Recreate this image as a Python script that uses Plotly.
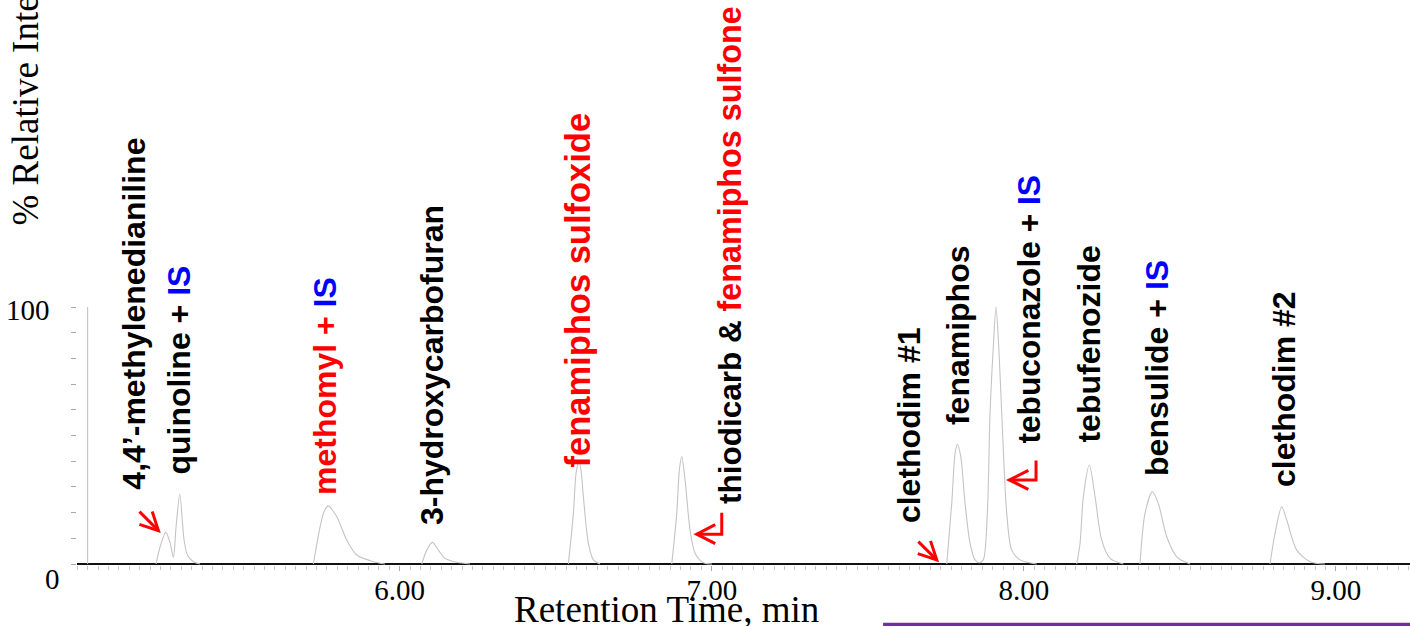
import plotly.graph_objects as go

# ---------------- data ----------------
# retention time (min) and % relative intensity; None separates peak segments
retention_time = [
    5.000, 5.000, None,
    5.2195, 5.2323, 5.2506, 5.2644, 5.2749, 5.2835, 5.2954, 5.3091, 5.3197, 5.3390, 5.3604, None,
    5.7235, 5.7450, 5.7578, 5.7706, 5.7985, 5.8305, 5.8625, 5.9157, 5.9532, None,
    6.0708, 6.0868, 6.1048, 6.1240, 6.1455, 6.1830, 6.2256, None,
    6.5405, 6.5566, 6.5652, 6.5748, 6.5822, 6.5886, 6.6046, 6.6206, 6.6421, None,
    6.8718, 6.8878, 6.8962, 6.9039, 6.9145, 6.9305, 6.9465, 6.9731, 7.0010, None,
    7.7530, 7.7690, 7.7796, 7.7870, 7.7979, 7.8117, 7.8277, 7.8437, 7.8574,
    7.8702, 7.8830, 7.8917, 7.9022, 7.9109, 7.9196, 7.9292, 7.9452, 7.9612, 7.9878, 8.0413, None,
    8.1695, 8.1801, 8.1907, 8.2099, 8.2282, 8.2496, 8.2762, 8.3188, None,
    8.3723, 8.3883, 8.4117, 8.4309, 8.4579, 8.4899, 8.5325, None,
    8.7889, 8.8049, 8.8263, 8.8424, 8.8744, 8.9170, 8.9651,
]
relative_intensity = [
    0, 100, None,
    0, 6.7, 12.3, 8.2, 2.6, 14.5, 27.1, 9.3, 3.5, 0.9, 0, None,
    0, 14.5, 20.4, 22.6, 18.4, 9.3, 3.5, 0.9, 0, None,
    0, 5.4, 8.4, 5.4, 2.2, 0.7, 0, None,
    0, 19.7, 35.3, 40.1, 35.3, 26.2, 8.1, 1.6, 0, None,
    0, 19.7, 36.6, 41.8, 32.7, 13.2, 4.2, 0.5, 0, None,
    0, 23.6, 43.0, 46.6, 41.8, 23.6, 8.0, 1.6, 0.5,
    1.6, 19.7, 58.6, 84.6, 100, 84.6, 58.6, 19.7, 5.4, 1.6, 0, None,
    0, 8.0, 26.2, 38.5, 26.2, 9.3, 2.2, 0, None,
    0, 19.7, 28.1, 23.6, 10.6, 2.8, 0, None,
    0, 11.9, 22.3, 17.1, 5.4, 0.9, 0,
]

RED = "#ff0000"
BLUE = "#0000ff"
peak_labels = [
    "4,4’-methylenedianiline",
    f"quinoline + <span style='color:{BLUE}'>IS</span>",
    f"<span style='color:{RED}'>methomyl + </span><span style='color:{BLUE}'>IS</span>",
    "3-hydroxycarbofuran",
    f"<span style='color:{RED}'>fenamiphos sulfoxide</span>",
    f"thiodicarb &amp; <span style='color:{RED};font-size:32.3px'>fenamiphos sulfone</span>",
    "clethodim #1",
    "fenamiphos",
    f"tebuconazole + <span style='color:{BLUE}'>IS</span>",
    "tebufenozide",
    f"bensulide + <span style='color:{BLUE}'>IS</span>",
    "clethodim #2",
]
x_tick_values = [6, 7, 8, 9]
x_tick_labels = ["6.00", "7.00", "8.00", "9.00"]
y_tick_values = [0, 10, 20, 30, 40, 50, 60, 70, 80, 90, 100]

# ---------------- layout (positions of labels / arrows) ----------------
W, H = 1410, 626
ML, MR, MT, MB = 77, 0, 0, 61
X_RANGE = [4.966, 9.2374]
Y_RANGE = [-0.389, 219.46]
KX = (W - ML - MR) / (X_RANGE[1] - X_RANGE[0])   # px per minute
KY = (H - MT - MB) / (Y_RANGE[1] - Y_RANGE[0])   # px per %

label_pos = [  # (x in min, bottom y in %, font size)
    (5.1474, 28.0, 32), (5.2932, 33.9, 32), (5.7610, 26.1, 32), (6.1038, 14.4, 32),
    (6.5716, 36.6, 34.5), (7.0586, 22.6, 31.5), (7.6325, 15.2, 32), (7.7892, 53.3, 32),
    (8.0135, 45.9, 31.7), (8.2057, 46.3, 32), (8.4268, 33.5, 32), (8.8337, 29.2, 32),
]

# arrows: tip (min, %), shaft polyline and head polyline as screen-pixel offsets from tip
arrows = [
    ((5.2269, 13.0), [(0, 0), (-19, -19)], [(-19, -6.2), (0, 0), (-6.2, -19)]),
    ((7.7209, 1.6), [(0, 0), (-18.4, -18.3)], [(-19, -6.2), (0, 0), (-6.2, -19)]),
    ((6.9519, 11.6), [(0, 0), (25, 0), (25, -21.5)], [(18.5, -9.5), (0, 0), (18.5, 9.5)]),
    ((7.9535, 32.7), [(0, 0), (26.7, 0), (26.7, -19.5)], [(19, -9.5), (0, 0), (19, 9.5)]),
]


def poly_path(tip, offsets):
    tx, ty = tip
    pts = [(tx + dx / KX, ty - dy / KY) for dx, dy in offsets]
    return "M" + " L".join(f"{x:.5f},{y:.4f}" for x, y in pts)


SERIF = "Liberation Serif, Times New Roman, serif"
SANS = "Liberation Sans, Arial, sans-serif"

fig = go.Figure()
fig.add_trace(go.Scatter(
    x=retention_time, y=relative_intensity, mode="lines",
    line=dict(color="#c4c4c4", width=1.1, shape="spline", smoothing=0.8),
    connectgaps=False, hoverinfo="skip", showlegend=False,
))

annotations = []
for txt, (lx, ly, fs) in zip(peak_labels, label_pos):
    annotations.append(dict(
        x=lx, y=ly, xref="x", yref="y", text=txt, showarrow=False,
        textangle=-90, xanchor="center", yanchor="bottom",
        font=dict(family=SANS, size=fs, color="black", weight="bold"),
    ))

# y tick labels
annotations.append(dict(x=-0.0188, y=100, xref="paper", yref="y", text="100",
                        showarrow=False, xanchor="right", yanchor="middle", yshift=-3,
                        font=dict(family=SERIF, size=29, color="black")))
annotations.append(dict(x=-0.0113, y=0, xref="paper", yref="y", text="0",
                        showarrow=False, xanchor="right", yanchor="middle", yshift=-15,
                        font=dict(family=SERIF, size=29, color="black")))
# axis titles
annotations.append(dict(x=0.4419, y=-0.0796, xref="paper", yref="paper",
                        text="Retention Time, min", showarrow=False,
                        xanchor="center", yanchor="middle",
                        font=dict(family=SERIF, size=37, color="black")))
annotations.append(dict(x=-0.039, y=0.5965, xref="paper", yref="paper",
                        text="% Relative Intensity", showarrow=False, textangle=-90,
                        xanchor="center", yanchor="bottom",
                        font=dict(family=SERIF, size=37, color="black")))

shapes = []
for tip, shaft, head in arrows:
    shapes.append(dict(type="path", xref="x", yref="y", path=poly_path(tip, shaft),
                       line=dict(color=RED, width=3)))
    shapes.append(dict(type="path", xref="x", yref="y", path=poly_path(tip, head),
                       line=dict(color=RED, width=3)))
# purple rule at the bottom
shapes.append(dict(type="line", xref="paper", yref="paper", x0=0.6047, x1=1.01,
                   y0=-0.1053, y1=-0.1053, line=dict(color="#7030a0", width=3.5)))

fig.update_layout(
    width=W, height=H,
    margin=dict(l=ML, r=MR, t=MT, b=MB),
    paper_bgcolor="white", plot_bgcolor="white",
    annotations=annotations, shapes=shapes,
    xaxis=dict(
        range=X_RANGE, tickmode="array", tickvals=x_tick_values,
        ticktext=x_tick_labels, ticks="outside", ticklen=5, tickcolor="#aaaaaa",
        tickfont=dict(family=SERIF, size=29, color="black"),
        ticklabelstandoff=-6,
        minor=dict(ticks="outside", ticklen=4, tickcolor="#c8c8c8", tickmode="linear",
                   tick0=0, dtick=1 / 30),
        showgrid=False, zeroline=False, showline=False,
    ),
    yaxis=dict(
        range=Y_RANGE, tickmode="array", tickvals=y_tick_values,
        ticks="outside", ticklen=5, tickcolor="#aaaaaa", showticklabels=False,
        showgrid=False, zeroline=True, zerolinecolor="#111111", zerolinewidth=1.5,
        showline=False,
    ),
)

fig.write_html("out.html", config={"displayModeBar": False},
               post_script="document.body.style.margin='0';document.body.style.padding='0';")
